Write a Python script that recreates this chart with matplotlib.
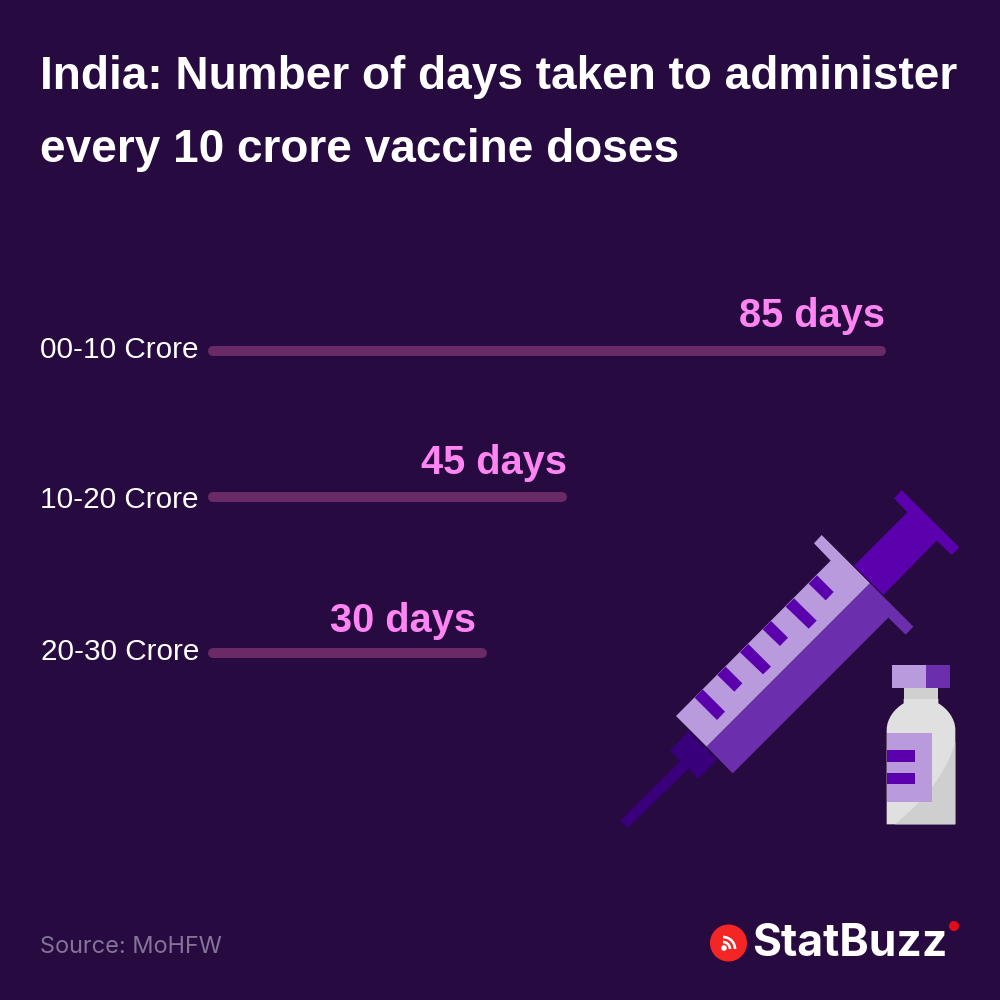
import matplotlib
matplotlib.use("Agg")
import matplotlib.pyplot as plt
from matplotlib.patches import Polygon, Circle, Wedge, PathPatch
from matplotlib.path import Path

# Data
categories = ["00-10 Crore", "10-20 Crore", "20-30 Crore"]
bar_lengths = [85, 45, 35]          # drawn lengths as they appear in the reference
value_labels = ["85 days", "45 days", "30 days"]

# Styling
BG = "#270A40"
BAR = "#6A2A66"
PINK = "#FF85F2"
LIGHT = "#B99BDD"
MID = "#6B2FAE"
DEEP = "#5A00AC"
DARK = "#38007A"
bar_y_px = [351, 497, 653]
cat_base_px = [358, 508, 660]
val_base_px = [327, 474, 632]
val_right_px = [885, 567, 476]

fig = plt.figure(figsize=(10, 10), dpi=100, facecolor=BG)

# Pixel canvas for text and illustration
bg = fig.add_axes([0, 0, 1, 1])
bg.set_xlim(0, 1000)
bg.set_ylim(1000, 0)
bg.axis("off")

# Chart axes: 0 days at x=208px, 85 days at x=886px
ax = fig.add_axes([0.208, 0, 0.678, 1])
ax.set_xlim(0, 85)
ax.set_ylim(1000, 0)
ax.axis("off")
ax.patch.set_alpha(0)

cap = 5 * 85 / 678  # half the bar thickness, in days, so round ends stay inside the value
for y, v in zip(bar_y_px, bar_lengths):
    ax.plot([cap, v - cap], [y, y], color=BAR, lw=7.2, solid_capstyle="round", clip_on=False)

for y, c in zip(cat_base_px, categories):
    bg.text(199, y, c, color="white", fontsize=21.4, family="Liberation Sans",
            ha="right", va="baseline")

for y, x, t in zip(val_base_px, val_right_px, value_labels):
    bg.text(x, y, t, color=PINK, fontsize=28.6, fontweight="bold",
            family="Liberation Sans", ha="right", va="baseline")

bg.text(40, 89, "India: Number of days taken to administer", color="white",
        fontsize=33.1, fontweight="bold", family="Liberation Sans", va="baseline")
bg.text(40, 162, "every 10 crore vaccine doses", color="white",
        fontsize=33.1, fontweight="bold", family="Liberation Sans", va="baseline")

bg.text(40, 953, "Source: MoHFW", color="#85739A", fontsize=16.9,
        family="Inter", va="baseline")


# Illustration, coordinates given in the 3x crop of region (600, 470)
def z(pts):
    return [(600 + x / 3, 470 + y / 3) for x, y in pts]


def poly(pts, color):
    bg.add_patch(Polygon(z(pts), closed=True, fc=color, ec="none"))


poly([(905, 60), (1078, 232), (1055, 255), (1010, 212), (850, 375), (762, 287),
      (922, 127), (882, 85)], DEEP)
poly([(265, 782), (352, 870), (295, 927), (265, 897), (83, 1075), (60, 1052),
      (240, 873), (210, 842)], DARK)
poly([(665, 195), (810, 340), (320, 830), (228, 738), (692, 272), (642, 220)], LIGHT)
poly([(810, 340), (940, 470), (917, 494), (865, 443), (398, 910), (320, 830)], MID)
for t in [[(284, 683), (308, 658), (375, 725), (351, 750)],
          [(352, 615), (377, 590), (427, 640), (403, 665)],
          [(420, 547), (445, 522), (513, 590), (489, 613)],
          [(488, 478), (513, 453), (564, 503), (540, 528)],
          [(557, 410), (582, 385), (650, 452), (626, 476)],
          [(626, 341), (651, 316), (701, 366), (677, 391)]]:
    poly(t, DEEP)


def rect(x0, y0, x1, y1, color):
    poly([(x0, y0), (x1, y0), (x1, y1), (x0, y1)], color)


# Bottle
rect(877, 584, 979, 653, LIGHT)
rect(979, 584, 1049, 653, MID)
rect(911, 653, 1015, 690, "#D0D0D0")
body = [(860, 1063), (860, 780), (860, 745), (885, 715), (911, 700), (911, 687),
        (1015, 687), (1015, 700), (1041, 715), (1066, 745), (1066, 780), (1066, 1063), (860, 1063)]
codes = [Path.MOVETO, Path.LINETO, Path.CURVE4, Path.CURVE4, Path.CURVE4, Path.LINETO,
         Path.LINETO, Path.LINETO, Path.CURVE4, Path.CURVE4, Path.CURVE4, Path.LINETO, Path.CLOSEPOLY]
bg.add_patch(PathPatch(Path(z(body), codes), fc="#E0E0E0", ec="none"))
shadow = [(885, 1063), (960, 1000), (1035, 925), (1066, 815), (1066, 1063), (885, 1063)]
bg.add_patch(PathPatch(Path(z(shadow), [Path.MOVETO, Path.CURVE4, Path.CURVE4, Path.CURVE4,
                                        Path.LINETO, Path.CLOSEPOLY]), fc="#CFCFCF", ec="none"))
rect(860, 789, 997, 995, LIGHT)
rect(860, 841, 946, 875, DEEP)
rect(860, 909, 946, 943, DEEP)

# Logo
bg.add_patch(Circle((728.5, 943), 18.5, fc="#F42525", ec="none"))
bg.add_patch(Circle((724, 948), 2.8, fc="white", ec="none"))
for r in (7, 12):
    bg.add_patch(Wedge((723, 949), r + 1.3, 270, 360, width=2.6, fc="white", ec="none"))
bg.add_patch(Circle((954, 926), 5, fc="#E30B17", ec="none"))
bg.text(752, 956, "StatBuzz", color="white", fontsize=32, fontweight="bold",
        family="Inter", va="baseline")

fig.savefig("out.png", dpi=100, facecolor=BG)
